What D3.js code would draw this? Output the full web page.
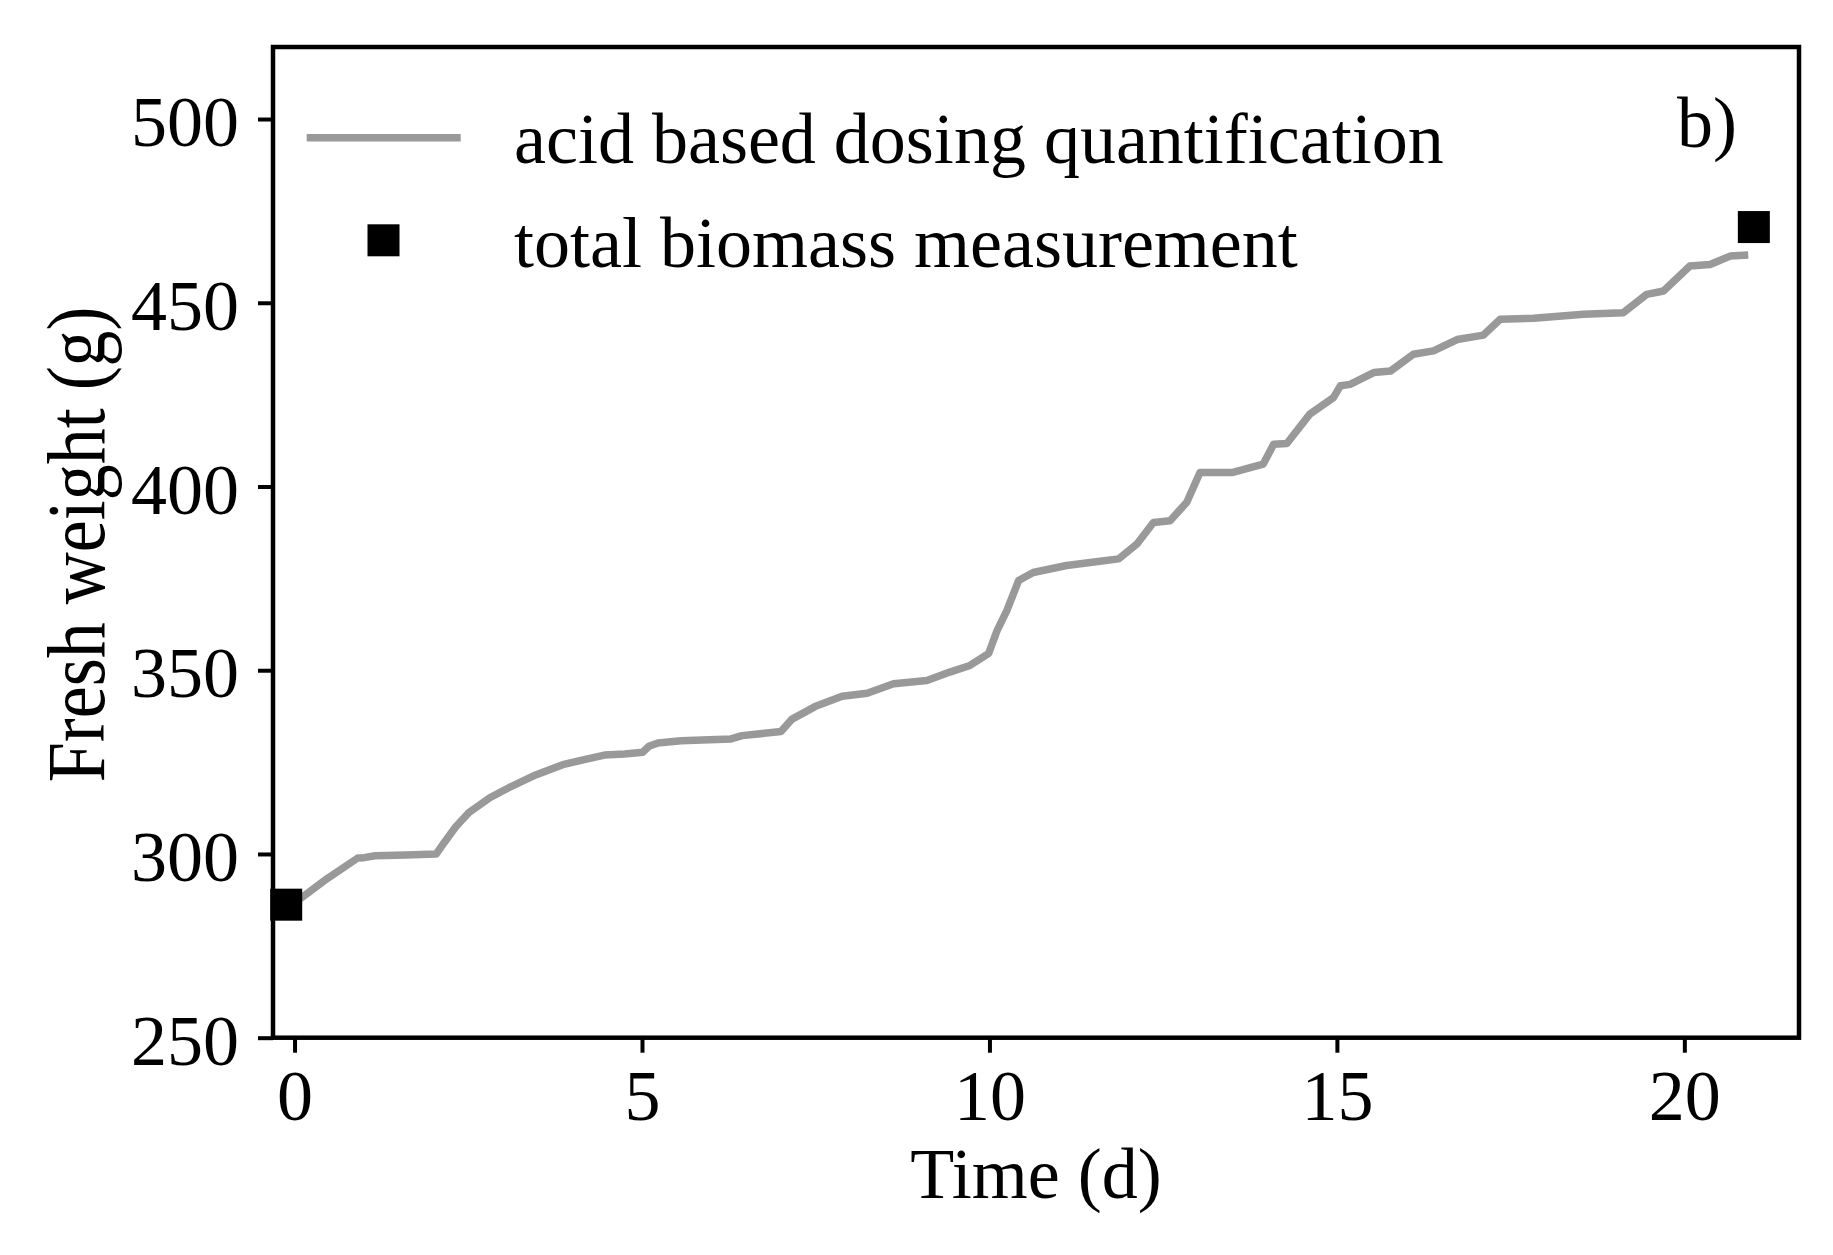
<!DOCTYPE html>
<html>
<head>
<meta charset="utf-8">
<script src="https://cdn.jsdelivr.net/npm/d3@7"></script>
<style>
  html, body { margin: 0; padding: 0; background: #fff; }
  svg { display: block; }
  text { font-family: "Liberation Serif", "Times New Roman", serif; fill: #000; }
</style>
</head>
<body>
<svg id="chart" width="1833" height="1255"></svg>
<script>
// ---- data ----
const doseTime = [0.00, 0.11, 0.47, 0.91, 1.00, 1.16, 1.60, 2.04, 2.15, 2.32, 2.51, 2.81, 3.09, 3.47, 3.86, 4.20, 4.46, 4.75, 5.01, 5.10, 5.23, 5.56, 6.28, 6.44, 7.00, 7.16, 7.49, 7.88, 8.24, 8.62, 9.10, 9.43, 9.72, 9.99, 10.11, 10.25, 10.42, 10.63, 11.11, 11.45, 11.86, 12.12, 12.36, 12.60, 12.84, 13.03, 13.49, 13.94, 14.09, 14.28, 14.61, 14.95, 15.05, 15.19, 15.53, 15.77, 16.10, 16.39, 16.73, 17.11, 17.35, 17.83, 18.55, 19.12, 19.46, 19.70, 20.08, 20.37, 20.66, 20.92];
const doseWeight = [287.0, 288.2, 293.3, 298.9, 299.0, 299.5, 299.7, 300.0, 303.0, 307.4, 311.3, 315.3, 318.1, 321.5, 324.3, 325.8, 326.9, 327.2, 327.7, 329.3, 330.2, 330.8, 331.3, 332.2, 333.3, 336.7, 340.1, 342.9, 343.75, 346.3, 347.2, 349.5, 351.3, 354.6, 360.8, 366.2, 374.4, 376.6, 378.5, 379.3, 380.3, 384.3, 390.2, 390.7, 395.7, 403.8, 403.8, 406.1, 411.5, 411.7, 419.7, 424.2, 427.4, 427.8, 431.0, 431.4, 436.0, 436.9, 440.0, 441.2, 445.5, 445.8, 446.9, 447.3, 452.3, 453.2, 460.0, 460.4, 462.7, 463.0];
const measTime = [-0.12, 21.0];
const measWeight = [286.2, 470.6];
const xTicks = [0, 5, 10, 15, 20];
const yTicks = [250, 300, 350, 400, 450, 500];
const seriesNames = ["acid based dosing quantification", "total biomass measurement"];
const xLabel = "Time (d)";
const yLabel = "Fresh weight (g)";
const panelLabel = "b)";

// ---- layout ----
const L = 273, R = 1799, T = 47, B = 1037.7;
const FS = 72;
const lineColor = "#999999";
const LW = 7.5;

const svg = d3.select("#chart");
const x = d3.scaleLinear().domain([-0.31, 21.65]).range([L, R]);
const y = d3.scaleLinear().domain([250, 519.6]).range([B, T]);

// line
const pts = doseTime.map((t, i) => [t, doseWeight[i]]);
svg.append("path")
  .datum(pts)
  .attr("fill", "none")
  .attr("stroke", lineColor)
  .attr("stroke-width", LW)
  .attr("stroke-linejoin", "round")
  .attr("d", d3.line().x(d => x(d[0])).y(d => y(d[1])));

// markers
const MS = 32;
svg.selectAll("rect.meas")
  .data(measTime.map((t, i) => [t, measWeight[i]]))
  .enter().append("rect")
  .attr("class", "meas")
  .attr("x", d => x(d[0]) - MS / 2)
  .attr("y", d => y(d[1]) - MS / 2)
  .attr("width", MS).attr("height", MS)
  .attr("fill", "#000");

// axes
const xAxis = svg.append("g").attr("transform", `translate(0,${B})`)
  .call(d3.axisBottom(x).tickValues(xTicks).tickSize(15).tickFormat(d3.format("d")));
const yAxis = svg.append("g").attr("transform", `translate(${L},0)`)
  .call(d3.axisLeft(y).tickValues(yTicks).tickSize(15).tickFormat(d3.format("d")));
[xAxis, yAxis].forEach(g => {
  g.select(".domain").remove();
  g.selectAll(".tick line").attr("stroke", "#000").attr("stroke-width", 4);
  g.selectAll(".tick text").style("font-size", FS + "px")
    .style("font-family", '"Liberation Serif", "Times New Roman", serif').attr("fill", "#000");
});
xAxis.selectAll(".tick text").attr("y", 82).attr("dy", null);
yAxis.selectAll(".tick text").attr("x", -34).attr("dy", "0.37em");

// frame
svg.append("rect")
  .attr("x", L).attr("y", T).attr("width", R - L).attr("height", B - T)
  .attr("fill", "none").attr("stroke", "#000").attr("stroke-width", 4.5);

// axis labels
svg.append("text")
  .attr("x", (L + R) / 2).attr("y", 1198)
  .attr("text-anchor", "middle").style("font-size", FS + "px")
  .text(xLabel);
svg.append("text")
  .attr("transform", `translate(104,${(T + B) / 2 + 2}) rotate(-90) scale(1,1.15)`)
  .attr("text-anchor", "middle").style("font-size", FS + "px")
  .text(yLabel);

// panel label
svg.append("text")
  .attr("x", 1737).attr("y", 147)
  .attr("text-anchor", "end").style("font-size", FS + "px")
  .text(panelLabel);

// legend
const lg = svg.append("g");
lg.append("line")
  .attr("x1", 306.7).attr("x2", 460.7).attr("y1", 137.7).attr("y2", 137.7)
  .attr("stroke", lineColor).attr("stroke-width", LW);
lg.append("rect")
  .attr("x", 383.5 - MS / 2).attr("y", 240.3 - MS / 2)
  .attr("width", MS).attr("height", MS).attr("fill", "#000");
lg.append("text").attr("x", 514).attr("y", 163).style("font-size", FS + "px").text(seriesNames[0]);
lg.append("text").attr("x", 514).attr("y", 266.7).style("font-size", FS + "px").text(seriesNames[1]);
</script>
</body>
</html>
